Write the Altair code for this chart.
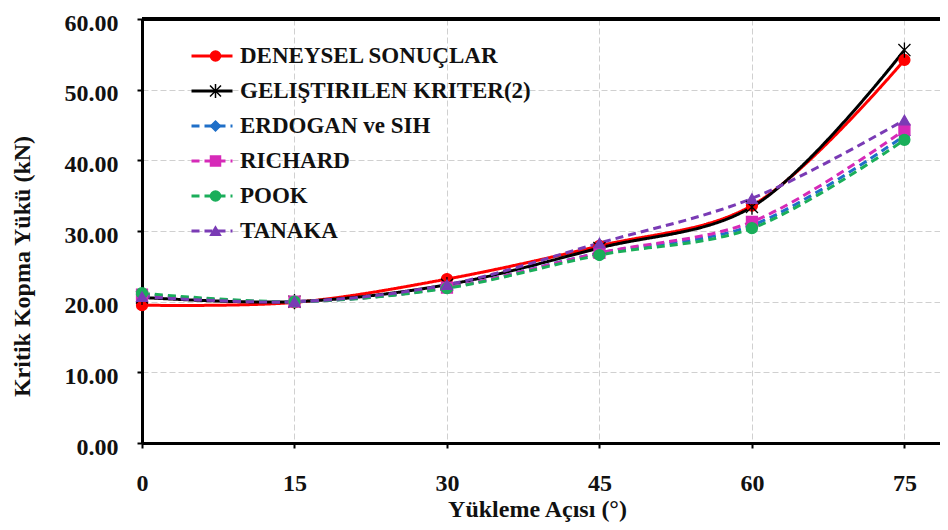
import altair as alt
import pandas as pd

angles = [0, 15, 30, 45, 60, 75]
series = ["DENEYSEL SONUÇLAR", "GELIŞTIRILEN KRITER(2)", "ERDOGAN ve SIH", "RICHARD", "POOK", "TANAKA"]
deneysel = [19.5, 19.9, 23.2, 27.9, 33.6, 54.2]
gelistirilen = [20.6, 20.0, 22.4, 27.6, 33.4, 55.6]
erdogan = [21.0, 20.0, 22.0, 26.9, 30.8, 43.5]
richard = [21.0, 20.0, 22.0, 26.9, 31.3, 44.3]
pook = [21.2, 20.0, 21.9, 26.6, 30.4, 42.9]
tanaka = [20.7, 20.0, 22.4, 28.3, 34.6, 45.7]

colors = ["#FF0000", "#000000", "#1F6FC8", "#D62AB8", "#1AAE5A", "#7A3BB5"]
dashes = [[1, 0], [1, 0], [8, 5], [8, 5], [8, 5], [8, 5]]
widths = [3, 3, 2.6, 2.6, 2.6, 2.6]
star = "M-1.1,-1.1L1.1,1.1M-1.1,1.1L1.1,-1.1M0,-1.4L0,1.4"
shapes = ["circle", star, "diamond", "square", "circle", "triangle-up"]

rows = []
for name, vals in zip(series, [deneysel, gelistirilen, erdogan, richard, pook, tanaka]):
    for a, v in zip(angles, vals):
        rows.append({"angle": a, "value": v, "series": name, "series_p": name})
df = pd.DataFrame(rows)

FONT = "Liberation Serif"
X_MAX = 78.5

x_enc = alt.X("angle:Q", scale=alt.Scale(domain=[0, X_MAX], nice=False),
              axis=alt.Axis(values=angles, title="Yükleme Açısı (°)", titleX=395, titleY=66,
                            titleBaseline="middle", labelPadding=23, grid=True))
y_enc = alt.Y("value:Q", scale=alt.Scale(domain=[0, 60], nice=False),
              axis=alt.Axis(values=[0, 10, 20, 30, 40, 50, 60], format=".2f",
                            title="Kritik Kopma Yükü (kN)", titleX=-120, titleY=247,
                            titleBaseline="middle", labelPadding=19, labelOffset=4, grid=True))

lines = alt.Chart(df).mark_line(interpolate="catmull-rom").encode(
    x=x_enc,
    y=y_enc,
    color=alt.Color("series:N", scale=alt.Scale(domain=series, range=colors),
                    legend=alt.Legend(title=None, orient="none", legendX=48, legendY=25,
                                      symbolType="stroke", symbolSize=1681, symbolStrokeWidth=3,
                                      clipHeight=24, rowPadding=11, labelOffset=6,
                                      labelFont=FONT, labelFontSize=23, labelFontWeight="bold",
                                      labelColor="#111111", labelLimit=600)),
    strokeDash=alt.StrokeDash("series:N", scale=alt.Scale(domain=series, range=dashes)),
    strokeWidth=alt.StrokeWidth("series:N", scale=alt.Scale(domain=series, range=widths), legend=None),
    order=alt.Order("angle:Q"),
)

points = alt.Chart(df).mark_point(filled=True, size=120, strokeWidth=1.3, opacity=1).encode(
    x="angle:Q",
    y="value:Q",
    color=alt.Color("series_p:N", scale=alt.Scale(domain=series, range=colors),
                    legend=alt.Legend(title=None, orient="none", legendX=62, legendY=25,
                                      clipHeight=24, rowPadding=11, labelOffset=6,
                                      labelFont=FONT, labelFontSize=23, labelFontWeight="bold",
                                      labelExpr="''", labelLimit=600)),
    shape=alt.Shape("series_p:N", scale=alt.Scale(domain=series, range=shapes)),
    stroke=alt.Stroke("series_p:N", scale=alt.Scale(domain=series, range=colors), legend=None),
)

top_border = alt.Chart(df).mark_rule(color="black", strokeWidth=3).encode(
    x=alt.datum(0), x2=alt.datum(X_MAX), y=alt.datum(60)
)

chart = alt.layer(lines, points, top_border).resolve_scale(
    color="independent", shape="independent", strokeDash="independent", stroke="independent"
).properties(
    width=798, height=424,
    autosize=alt.AutoSizeParams(type="none"),
    padding={"left": 134, "top": 11, "right": 0, "bottom": 79},
).configure_view(stroke=None).configure_axis(
    domainColor="black", domainWidth=3, tickColor="black", tickWidth=2, tickSize=5,
    labelFont=FONT, labelFontSize=24, labelFontWeight="bold", labelColor="#111111",
    titleFont=FONT, titleFontSize=24, titleFontWeight="bold", titleColor="#111111",
    gridColor="#D0D0D0", gridDash=[6, 3], gridWidth=1, gridOpacity=1,
).configure_axisX(labelFlush=False)

chart.save("out.html", embed_options={"renderer": "svg", "actions": False})
